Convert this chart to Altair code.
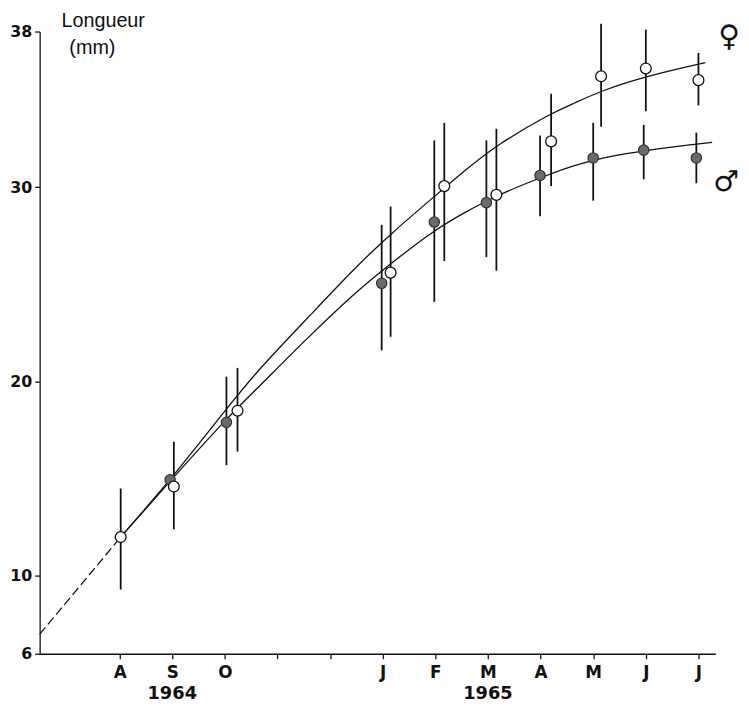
import altair as alt
import pandas as pd

# ---- data (x = month index: A(ug 1964)=1 ... J(ul 1965)=12) ----
fem_month = [1.02, 2.03, 3.24, 6.15, 7.17, 8.16, 9.20, 10.15, 11.0, 12.0]
fem_len   = [12.0, 14.6, 18.5, 25.6, 30.05, 29.6, 32.35, 35.7, 36.1, 35.5]
fem_low   = [9.3, 12.4, 16.4, 22.3, 26.2, 25.7, 30.05, 33.1, 33.9, 34.2]
fem_high  = [14.5, 16.9, 20.7, 29.0, 33.3, 33.0, 34.8, 38.4, 38.1, 36.9]

male_month = [1.96, 3.03, 5.98, 6.98, 7.97, 8.99, 10.0, 10.96, 11.96]
male_len   = [14.95, 17.9, 25.05, 28.2, 29.2, 30.6, 31.5, 31.9, 31.5]
male_low   = [14.95, 15.7, 21.6, 24.1, 26.4, 28.5, 29.3, 30.4, 30.2]
male_high  = [14.95, 20.25, 28.06, 32.4, 32.4, 32.65, 33.3, 33.2, 32.8]

curve_f_x = [1.02, 2.0, 3.03, 3.6, 4.55, 5.49, 6.15, 7.17, 7.56, 8.18, 9.20, 9.63, 10.15, 11.0, 12.13]
curve_f_y = [12.0, 15.05, 18.6, 20.5, 23.2, 25.9, 27.6, 29.95, 30.85, 32.2, 33.8, 34.3, 34.95, 35.7, 36.4]
curve_m_x = [1.02, 2.0, 3.03, 3.6, 4.55, 5.49, 5.98, 6.98, 7.56, 8.18, 9.20, 9.63, 10.15, 11.0, 12.26]
curve_m_y = [12.0, 15.0, 18.1, 19.6, 22.2, 24.6, 25.7, 27.8, 28.7, 29.6, 30.7, 31.1, 31.5, 31.9, 32.3]
dash_x = [-0.52, 1.02]
dash_y = [7.0, 12.0]

tick_months = list(range(1, 13))
tick_labels = ["", "A", "S", "O", "", "", "J", "F", "M", "A", "M", "J", "J"]
y_ticks = [6, 10, 20, 30, 38]
year_x = [2.0, 8.0]
year_text = ["1964", "1965"]

W, H = 683, 629
FONT = "Liberation Sans"
BOLDFONT = "DejaVu Sans"

xs = alt.Scale(domain=[-0.52, 12.32], nice=False, zero=False)
ys = alt.Scale(domain=[6, 38], nice=False, zero=False)

fem = pd.DataFrame({"m": fem_month, "v": fem_len, "lo": fem_low, "hi": fem_high})
male = pd.DataFrame({"m": male_month, "v": male_len, "lo": male_low, "hi": male_high})
cf = pd.DataFrame({"m": curve_f_x, "v": curve_f_y})
cm = pd.DataFrame({"m": curve_m_x, "v": curve_m_y})
cd = pd.DataFrame({"m": dash_x, "v": dash_y})
years = pd.DataFrame({"m": year_x, "t": year_text})

label_expr = "[" + ",".join("'%s'" % s for s in tick_labels) + "][datum.value]"

x_axis = alt.Axis(values=tick_months, labelExpr=label_expr, tickSize=5, tickWidth=1.3,
                  domainWidth=1.3, domainColor="#111", tickColor="#111", grid=False,
                  labelFont=BOLDFONT, labelFontWeight="bold", labelFontSize=17,
                  labelColor="#111", labelPadding=6, title=None, labelFlush=False)
y_axis = alt.Axis(values=y_ticks, tickSize=5, tickWidth=1.3, domainWidth=1.3,
                  domainColor="#111", tickColor="#111", grid=False,
                  labelFont=BOLDFONT, labelFontWeight="bold", labelFontSize=16,
                  labelColor="#111", labelPadding=3, title=None, labelFlush=False)

X = alt.X("m:Q", scale=xs)
Y = alt.Y("v:Q", scale=ys)

base_axes = alt.Chart(cd).mark_line(strokeDash=[9, 4], color="#111", strokeWidth=1.3).encode(
    x=alt.X("m:Q", scale=xs, axis=x_axis),
    y=alt.Y("v:Q", scale=ys, axis=y_axis),
)

curve_f = alt.Chart(cf).mark_line(color="#111", strokeWidth=1.3, interpolate="basis").encode(x=X, y=Y)
curve_m = alt.Chart(cm).mark_line(color="#111", strokeWidth=1.3, interpolate="basis").encode(x=X, y=Y)

bars_f = alt.Chart(fem).mark_rule(color="#111", strokeWidth=1.8).encode(
    x=X, y=alt.Y("lo:Q", scale=ys), y2="hi:Q")
bars_m = alt.Chart(male).mark_rule(color="#111", strokeWidth=1.8).encode(
    x=X, y=alt.Y("lo:Q", scale=ys), y2="hi:Q")

pts_m = alt.Chart(male).mark_point(shape="circle", filled=True, size=110, fill="#6a6a6a",
                                   stroke="#333", strokeWidth=1.2, opacity=1).encode(x=X, y=Y)
pts_f = alt.Chart(fem).mark_point(shape="circle", filled=True, size=120, fill="white",
                                  stroke="#111", strokeWidth=1.3, opacity=1).encode(x=X, y=Y)

year_lbl = alt.Chart(years).mark_text(font=BOLDFONT, fontWeight="bold", fontSize=18, color="#111",
                                      baseline="alphabetic", align="center").encode(
    x=X, y=alt.value(675), text="t:N")

title_df = pd.DataFrame({"t": ["Longueur"]})
title1 = alt.Chart(title_df).mark_text(font=FONT, fontSize=20, color="#111", align="left",
                                       baseline="middle").encode(
    x=alt.value(22), y=alt.value(-11), text="t:N")
title2_df = pd.DataFrame({"t": ["(mm)"]})
title2 = alt.Chart(title2_df).mark_text(font=FONT, fontSize=20, color="#111", align="left",
                                        baseline="middle").encode(
    x=alt.value(30), y=alt.value(17), text="t:N")

sym_df = pd.DataFrame({"t": ["♀"]})
sym_f = alt.Chart(sym_df).mark_text(font="DejaVu Sans", fontSize=30, color="#111",
                                    align="center", baseline="middle").encode(
    x=alt.value(697), y=alt.value(6), text="t:N")
sym_df2 = pd.DataFrame({"t": ["♂"]})
sym_m = alt.Chart(sym_df2).mark_text(font="DejaVu Sans", fontSize=29, color="#111",
                                     align="center", baseline="middle").encode(
    x=alt.value(694), y=alt.value(152), text="t:N")

chart = alt.layer(
    base_axes, curve_f, curve_m, bars_f, bars_m, pts_m, pts_f,
    year_lbl, title1, title2, sym_f, sym_m
).properties(
    width=W, height=H,
    autosize=alt.AutoSizeParams(type="none"),
    padding={"left": 32, "top": 20, "right": 26, "bottom": 46},
).configure(background="white").configure_view(stroke=None)

chart.save("out.html", embed_options={"renderer": "svg", "actions": False})
